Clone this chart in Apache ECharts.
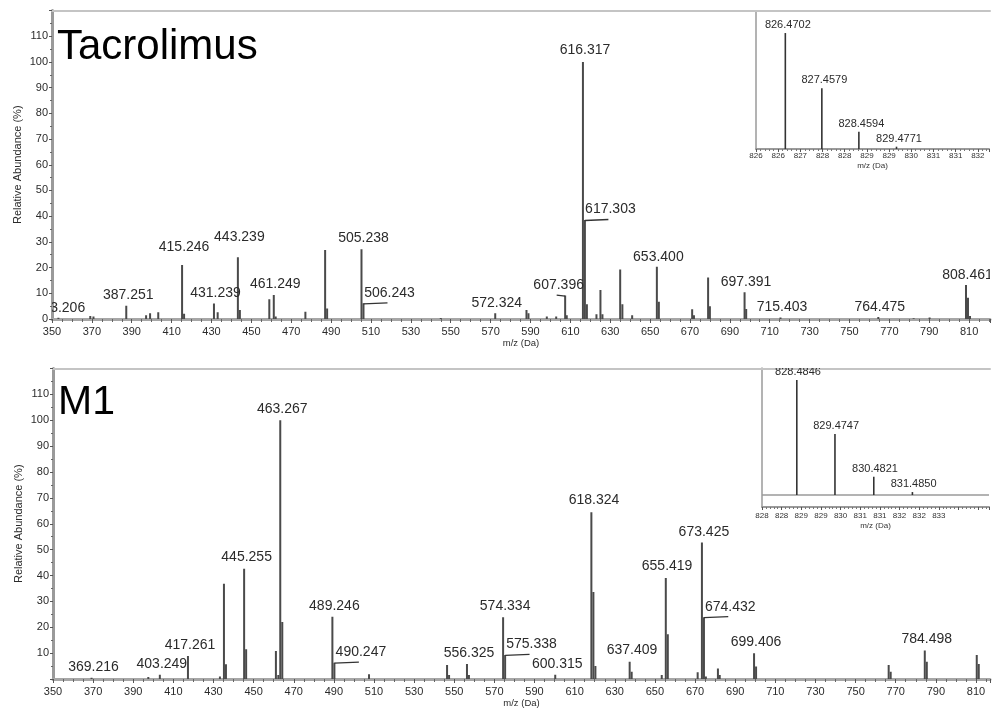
<!DOCTYPE html>
<html>
<head>
<meta charset="utf-8">
<script src="https://cdn.jsdelivr.net/npm/echarts@6/dist/echarts.min.js"></script>
<style>
html, body { margin: 0; padding: 0; background: #fff; }
#chart { width: 992px; height: 710px; }
</style>
</head>
<body>
<div id="chart"></div>
<script>
// ---- Tacrolimus product-ion spectrum: [m/z, relative abundance %] ----
const tacrolimusPeaks = [
  [353.206, 0.5], [369.2, 1.2], [370.8, 1.0], [387.251, 5.2],
  [397.2, 1.5], [399.2, 2.2], [403.3, 2.6],
  [415.246, 21.0], [416.25, 2.0], [431.239, 6.0], [433.1, 2.6],
  [443.239, 24.0], [444.24, 3.5], [459.0, 7.7], [461.249, 9.3], [462.2, 1.0],
  [477.1, 2.8], [487.0, 26.8], [488.0, 4.1],
  [505.238, 27.1], [506.243, 6.1], [545.0, 0.4], [572.324, 2.2],
  [588.0, 3.5], [589.0, 2.2], [598.2, 1.0], [602.9, 1.0],
  [607.396, 9.1], [608.2, 1.5],
  [616.317, 100], [617.303, 38.5], [618.3, 5.7],
  [623.1, 1.8], [625.1, 11.3], [626.1, 1.8], [635.0, 19.3], [636.1, 5.7], [641.0, 1.5],
  [653.400, 20.3], [654.4, 6.7], [671.1, 3.8], [672.0, 1.5],
  [679.1, 16.1], [680.0, 5.0], [697.391, 10.4], [698.2, 3.9],
  [715.403, 0.6], [764.475, 0.8], [782.2, 0.3], [790.2, 0.6],
  [808.461, 13.2], [809.46, 8.3], [810.47, 1.2]
];
const tacrolimusLabels = [
  353.206, 387.251, 415.246, 431.239, 443.239, 461.249, 505.238, 506.243,
  572.324, 607.396, 616.317, 617.303, 653.400, 697.391, 715.403, 764.475, 808.461
];
// precursor isotope cluster
const tacrolimusIsotopes = [[826.4702, 100], [827.4579, 52.4], [828.4594, 14.8], [829.4771, 2.0]];

// ---- M1 product-ion spectrum ----
const m1Peaks = [
  [369.216, 0.5], [397.5, 0.8], [403.249, 1.6], [417.261, 8.9],
  [433.2, 1.0], [435.2, 36.8], [436.2, 5.7], [445.255, 42.6], [446.26, 11.5],
  [461.1, 10.8], [462.3, 1.5], [463.267, 100], [464.27, 22.0],
  [489.246, 24.1], [490.247, 6.3], [507.5, 1.8],
  [546.4, 5.4], [547.4, 1.5], [556.325, 5.8], [557.3, 1.5],
  [574.334, 23.9], [575.338, 9.3], [600.315, 1.6],
  [618.324, 64.4], [619.33, 33.6], [620.33, 5.0], [637.409, 6.7], [638.41, 2.8],
  [653.4, 1.5], [655.419, 39.0], [656.42, 17.3],
  [671.3, 2.6], [673.425, 52.8], [674.432, 23.9], [675.4, 1.0], [681.4, 4.1], [682.3, 1.5],
  [699.406, 10.0], [700.41, 4.8], [766.5, 5.4], [767.5, 2.8],
  [784.498, 11.0], [785.5, 6.7], [810.4, 9.3], [811.4, 5.8]
];
const m1Labels = [
  369.216, 403.249, 417.261, 445.255, 463.267, 489.246, 490.247, 556.325, 574.334,
  575.338, 600.315, 618.324, 637.409, 655.419, 673.425, 674.432, 699.406, 784.498
];
const m1Isotopes = [[828.4846, 100], [829.4747, 53.0], [830.4821, 15.9], [831.4850, 2.6]];

// ---- tick labels ----
const yTicksTop = [0, 10, 20, 30, 40, 50, 60, 70, 80, 90, 100, 110];
const yTicksBottom = [10, 20, 30, 40, 50, 60, 70, 80, 90, 100, 110];
const insetTicksTop = ['826', '826', '827', '828', '828', '829', '829', '830', '831', '831', '832'];
const insetTicksBottom = ['828', '828', '829', '829', '830', '831', '831', '832', '832', '833'];

// label placement: offset of the label centre from the peak top, in px; third flag draws a leader hook
const tacrolimusLabelShift = {
  '415.246': [2, -18], '443.239': [1.5, -20], '461.249': [1.5, -11], '505.238': [2, -11],
  '506.243': [26, -10, true], '607.396': [-6.5, -10, true], '616.317': [2, -12],
  '617.303': [25.5, -10.7, true], '387.251': [2, -10.6]
};
const m1LabelShift = {
  '490.247': [26.5, -10.4, true], '575.338': [26.4, -10.7, true], '674.432': [26.3, -10, true],
  '445.255': [2.5, -11.7], '463.267': [2, -11.6], '618.324': [2.6, -11.8], '637.409': [2.4, -11.7],
  '655.419': [1.3, -11.6], '673.425': [2, -10]
};

const FONT = "'Liberation Sans', Arial, sans-serif";
const AXIS_GREY = '#a6a6a6';
const TEXT = '#2b2b2b';

function labelData(peaks, labels) {
  return labels.map(mz => [mz, peaks.find(p => p[0] === mz)[1]]);
}

function peakRenderer(width, color) {
  return function (params, api) {
    const mz = api.value(0), ab = api.value(1);
    const top = api.coord([mz, ab]);
    const base = api.coord([mz, 0]);
    return {
      type: 'rect',
      shape: { x: top[0] - width / 2, y: top[1], width: width, height: base[1] - top[1] },
      style: { fill: color }
    };
  };
}

function labelRenderer(decimals, fontSize, shifts, defShift) {
  return function (params, api) {
    const mz = api.value(0), ab = api.value(1);
    const p = api.coord([mz, ab]);
    const key = mz.toFixed(decimals);
    const s = shifts[key] || defShift;
    const cx = p[0] + s[0], cy = p[1] + s[1];
    const children = [{
      type: 'text', x: cx, y: cy,
      style: {
        text: key, align: 'center', verticalAlign: 'middle',
        font: fontSize + 'px ' + FONT, fill: TEXT
      }
    }];
    if (s[2]) {
      children.push({
        type: 'polyline',
        shape: { points: [[p[0], p[1] + 0.5], [cx - 2, p[1] - 0.5]] },
        style: { stroke: '#333', lineWidth: 1.3, fill: null }
      });
    }
    return { type: 'group', children: children };
  };
}

function mainX(gridIndex, max) {
  return {
    type: 'value', gridIndex: gridIndex, min: 350, max: max, interval: 20,
    axisLine: { show: true, onZero: false, lineStyle: { color: AXIS_GREY, width: 3 } },
    axisTick: { show: true, length: 4, lineStyle: { color: '#555', width: 1 } },
    minorTick: { show: true, splitNumber: 4, length: 3, lineStyle: { color: '#666', width: 1 } },
    axisLabel: { fontSize: 11, color: TEXT, margin: 7, fontFamily: FONT, showMaxLabel: false },
    splitLine: { show: false }, minorSplitLine: { show: false },
    name: 'm/z (Da)', nameLocation: 'middle', nameGap: 19, nameMoveOverlap: false,
    nameTextStyle: { fontSize: 9.5, color: TEXT, fontFamily: FONT }
  };
}
function borderX(gridIndex, max) {
  return {
    type: 'value', gridIndex: gridIndex, position: 'top', min: 350, max: max,
    axisLine: { show: true, onZero: false, lineStyle: { color: '#c4c4c4', width: 2 } },
    axisTick: { show: false }, axisLabel: { show: false }, splitLine: { show: false }
  };
}
function mainY(gridIndex, ticks) {
  return {
    type: 'value', gridIndex: gridIndex, min: 0, max: 120, interval: 10,
    axisLine: { show: true, lineStyle: { color: '#9a9a9a', width: 3 } },
    axisTick: { show: true, length: 3, lineStyle: { color: '#555' } },
    minorTick: { show: true, splitNumber: 2, length: 2, lineStyle: { color: '#666' } },
    axisLabel: {
      fontSize: 11, color: TEXT, margin: 4, fontFamily: FONT,
      formatter: v => (ticks.indexOf(v) >= 0 ? String(v) : '')
    },
    splitLine: { show: false },
    name: 'Relative Abundance (%)', nameLocation: 'middle', nameGap: 29, nameRotate: 90,
    nameMoveOverlap: false,
    nameTextStyle: { fontSize: 11, color: TEXT, fontFamily: FONT }
  };
}
function insetX(gridIndex, min, max, interval, ticks, margin, nameGap) {
  return {
    type: 'value', gridIndex: gridIndex, min: min, max: max, interval: interval,
    axisLine: { show: true, onZero: false, lineStyle: { color: '#9a9a9a', width: 2 } },
    axisTick: { show: true, length: 3, lineStyle: { color: '#555' } },
    minorTick: { show: true, splitNumber: 5, length: 2, lineStyle: { color: '#777' } },
    axisLabel: {
      fontSize: 8, color: '#333', margin: margin, fontFamily: FONT, showMaxLabel: true,
      formatter: (v, i) => (ticks[i] !== undefined ? ticks[i] : '')
    },
    splitLine: { show: false },
    name: 'm/z (Da)', nameLocation: 'middle', nameGap: nameGap, nameMoveOverlap: false,
    nameTextStyle: { fontSize: 8, color: '#333', fontFamily: FONT }
  };
}
function insetY(gridIndex, min, max) {
  return {
    type: 'value', gridIndex: gridIndex, min: min, max: max,
    axisLine: { show: true, onZero: false, lineStyle: { color: '#9a9a9a', width: 1.5 } },
    axisTick: { show: false }, axisLabel: { show: false }, splitLine: { show: false }
  };
}

const chart = echarts.init(document.getElementById('chart'), null, { renderer: 'canvas' });

chart.setOption({
  backgroundColor: '#fff',
  animation: false,
  grid: [
    { left: 52, right: 2, top: 10.5, bottom: 391 },
    { left: 756, right: 0, top: 11, bottom: 561, show: true, backgroundColor: '#fff', borderWidth: 0 },
    { left: 53, right: 2, top: 368.5, bottom: 31 },
    { left: 762, right: 0, top: 368, bottom: 203, show: true, backgroundColor: '#fff', borderWidth: 0 }
  ],
  xAxis: [
    mainX(0, 820.5),
    borderX(0, 820.5),
    insetX(1, 825.677, 831.979, 0.6, insetTicksTop, 3, 13),
    mainX(2, 817),
    borderX(2, 817),
    insetX(3, 827.581, 833.473, 0.51, insetTicksBottom, 5, 15)
  ],
  yAxis: [
    mainY(0, yTicksTop),
    insetY(1, 0, 119),
    mainY(2, yTicksBottom),
    insetY(3, -10.4, 110.4)
  ],
  series: [
    { type: 'custom', xAxisIndex: 0, yAxisIndex: 0, clip: true, z: 3,
      data: tacrolimusPeaks, renderItem: peakRenderer(2, '#4a4a4a') },
    { type: 'custom', xAxisIndex: 0, yAxisIndex: 0, clip: true, z: 4,
      data: labelData(tacrolimusPeaks, tacrolimusLabels),
      renderItem: labelRenderer(3, 14, tacrolimusLabelShift, [1.5, -10]) },
    { type: 'custom', xAxisIndex: 2, yAxisIndex: 1, clip: true, z: 5,
      data: tacrolimusIsotopes, renderItem: peakRenderer(1.6, '#333') },
    { type: 'custom', xAxisIndex: 2, yAxisIndex: 1, clip: true, z: 5,
      data: tacrolimusIsotopes, renderItem: labelRenderer(4, 11, {}, [2.5, -8]) },
    { type: 'custom', xAxisIndex: 3, yAxisIndex: 2, clip: true, z: 3,
      data: m1Peaks, renderItem: peakRenderer(2, '#4a4a4a') },
    { type: 'custom', xAxisIndex: 3, yAxisIndex: 2, clip: true, z: 4,
      data: labelData(m1Peaks, m1Labels),
      renderItem: labelRenderer(3, 14, m1LabelShift, [2, -11]) },
    { type: 'custom', xAxisIndex: 5, yAxisIndex: 3, clip: true, z: 5,
      data: m1Isotopes, renderItem: peakRenderer(1.6, '#333'),
      markLine: {
        silent: true, symbol: 'none', label: { show: false },
        lineStyle: { color: '#9a9a9a', width: 1.5, type: 'solid' },
        data: [{ yAxis: 0 }]
      } },
    { type: 'custom', xAxisIndex: 5, yAxisIndex: 3, clip: true, z: 5,
      data: m1Isotopes, renderItem: labelRenderer(4, 11, {}, [1.2, -7.7]) }
  ],
  graphic: [
    { type: 'text', left: 57, top: 26, z: 10,
      style: { text: 'Tacrolimus', font: '42px ' + FONT, fill: '#000' } },
    { type: 'text', left: 58, top: 382, z: 10,
      style: { text: 'M1', font: '41px ' + FONT, fill: '#000' } }
  ]
});
</script>
</body>
</html>
